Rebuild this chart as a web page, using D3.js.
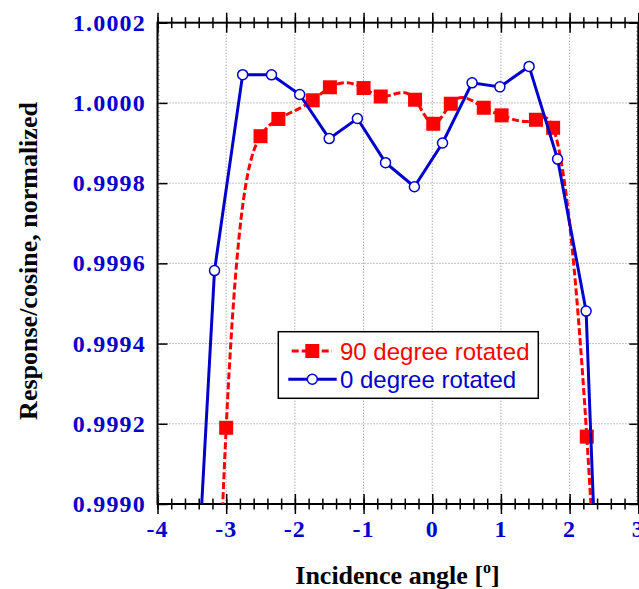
<!DOCTYPE html>
<html><head><meta charset="utf-8">
<script src="https://cdn.jsdelivr.net/npm/d3@7"></script>
<style>body{margin:0;background:#fff;overflow:hidden}</style>
</head><body>
<svg id="chart" width="639" height="589"></svg>
<script>
// Series: 90 degree rotated (red) — first/last points lie below the visible range
const redX = [-3.25, -3.0, -2.5, -2.24, -1.74, -1.49, -1.0, -0.75, -0.25, 0.015, 0.27, 0.75, 1.01, 1.51, 1.76, 2.25, 2.5];
const redY = [0.998065, 0.99919, 0.999917, 0.99996, 1.0000065, 1.000039, 1.000037, 1.000016, 1.000008, 0.999948, 0.999998, 0.999988, 0.999969, 0.999958, 0.999938, 0.999168, 0.9984];
// Series: 0 degree rotated (blue)
const blueX = [-3.58, -3.17, -2.76, -2.34, -1.93, -1.50, -1.09, -0.68, -0.26, 0.15, 0.58, 0.985, 1.41, 1.825, 2.24, 2.655];
const blueY = [0.9983, 0.999582, 1.0000705, 1.00007, 1.000021, 0.999911, 0.999961, 0.999851, 0.999791, 0.9999, 1.00005, 1.00004, 1.000091, 0.99986, 0.999481, 0.9976];
// Axis ticks
const xTicks = [-4, -3, -2, -1, 0, 1, 2, 3];
const yTicks = [0.9990, 0.9992, 0.9994, 0.9996, 0.9998, 1.0000, 1.0002];
const legendLabels = ["90 degree rotated", "0 degree rotated"];

const RED = "#ff0000", BLUE = "#0000cc";
const L = 157.5, R = 638.3, T = 22.7, B = 504;
const x = d3.scaleLinear().domain([-4, 3]).range([L, R]);
const y = d3.scaleLinear().domain([0.9990, 1.0002]).range([B, T]);

// custom d3 curve: natural cubic spline y(x) (x must be increasing)
function curveSplineX(context) {
  let xs, ys;
  return {
    areaStart() {}, areaEnd() {},
    lineStart() { xs = []; ys = []; },
    point(px, py) { xs.push(+px); ys.push(+py); },
    lineEnd() {
      const n = xs.length - 1;
      if (n < 1) return;
      const h = d3.range(n).map(i => xs[i + 1] - xs[i]);
      const s = d3.range(n).map(i => (ys[i + 1] - ys[i]) / h[i]);
      const M = new Array(n + 1).fill(0);
      if (n > 1) {
        const a = [], b = [], c = [], d = [];
        for (let i = 1; i < n; i++) {
          a.push(h[i - 1]); b.push(2 * (h[i - 1] + h[i])); c.push(h[i]); d.push(6 * (s[i] - s[i - 1]));
        }
        const m = b.length;
        for (let i = 1; i < m; i++) {
          const w = a[i] / b[i - 1];
          b[i] -= w * c[i - 1]; d[i] -= w * d[i - 1];
        }
        const sol = new Array(m);
        sol[m - 1] = d[m - 1] / b[m - 1];
        for (let i = m - 2; i >= 0; i--) sol[i] = (d[i] - c[i] * sol[i + 1]) / b[i];
        for (let i = 1; i < n; i++) M[i] = sol[i - 1];
      }
      const der = i => i < n ? s[i] - h[i] * (2 * M[i] + M[i + 1]) / 6
                             : s[n - 1] + h[n - 1] * (M[n - 1] + 2 * M[n]) / 6;
      context.moveTo(xs[0], ys[0]);
      for (let i = 0; i < n; i++) {
        const k = h[i] / 3;
        context.bezierCurveTo(xs[i] + k, ys[i] + der(i) * k, xs[i + 1] - k, ys[i + 1] - der(i + 1) * k, xs[i + 1], ys[i + 1]);
      }
    }
  };
}

const svg = d3.select("#chart");
svg.append("rect").attr("width", 639).attr("height", 589).attr("fill", "#fff");

svg.append("defs").append("clipPath").attr("id", "clip")
  .append("rect").attr("x", L).attr("y", T).attr("width", R - L).attr("height", B - T);

// grid
const grid = svg.append("g").attr("stroke", "#8a8a8a").attr("stroke-width", 1).attr("stroke-dasharray", "1,2");
grid.selectAll(".gx").data(xTicks.filter(d => d > -4 && d < 3)).join("line")
  .attr("x1", d => x(d)).attr("x2", d => x(d)).attr("y1", T).attr("y2", B);
grid.selectAll(".gy").data(yTicks.filter(d => d > 0.9990 && d < 1.0002)).join("line")
  .attr("y1", d => y(d)).attr("y2", d => y(d)).attr("x1", L).attr("x2", R);

// minor ticks
const xMinor = d3.range(-4, 3.0001, 0.2);
const yMinor = d3.range(0.9990, 1.00020001, 0.00001);

function styleAxis(g) {
  g.select(".domain").remove();
  g.selectAll(".tick line").attr("stroke", "#000").attr("stroke-width", 1.5);
  g.selectAll("text").remove();
}
[[B, d3.axisBottom, d3.axisTop], [T, d3.axisTop, d3.axisBottom]].forEach(([pos, out, inn]) => {
  svg.append("g").attr("transform", `translate(0,${pos})`).call(out(x).tickValues(xMinor).tickSize(5.5)).call(styleAxis);
  svg.append("g").attr("transform", `translate(0,${pos})`).call(inn(x).tickValues(xMinor).tickSize(5.5)).call(styleAxis);
  svg.append("g").attr("transform", `translate(0,${pos})`).call(out(x).tickValues(xTicks).tickSize(10)).call(styleAxis);
  svg.append("g").attr("transform", `translate(0,${pos})`).call(inn(x).tickValues(xTicks).tickSize(10)).call(styleAxis);
});
svg.append("g").attr("transform", `translate(${L},0)`).call(d3.axisRight(y).tickValues(yTicks).tickSize(10)).call(styleAxis);
svg.append("g").attr("transform", `translate(${R},0)`).call(d3.axisLeft(y).tickValues(yTicks).tickSize(9)).call(styleAxis);
svg.append("g").attr("transform", `translate(${L},0)`).call(d3.axisRight(y).tickValues(yMinor).tickSize(2)).call(styleAxis)
  .selectAll(".tick line").attr("stroke-width", 0.8).attr("stroke", "#666");
svg.append("g").attr("transform", `translate(${R},0)`).call(d3.axisLeft(y).tickValues(yMinor).tickSize(2)).call(styleAxis)
  .selectAll(".tick line").attr("stroke-width", 0.8).attr("stroke", "#666");

// frame
svg.append("rect").attr("x", L).attr("y", T).attr("width", R - L).attr("height", B - T)
  .attr("fill", "none").attr("stroke", "#000").attr("stroke-width", 2);

// tick labels
svg.append("g").selectAll("text").data(xTicks).join("text")
  .attr("x", d => x(d)).attr("y", 537).attr("text-anchor", "middle")
  .attr("font-family", "Liberation Serif, Times New Roman, serif").attr("font-weight", "bold")
  .attr("font-size", 24).attr("letter-spacing", 1).attr("fill", BLUE)
  .text(d => d3.format("d")(d).replace("−", "-"));
svg.append("g").selectAll("text").data(yTicks).join("text")
  .attr("x", 146).attr("y", d => y(d) + 8).attr("text-anchor", "end")
  .attr("font-family", "Liberation Serif, Times New Roman, serif").attr("font-weight", "bold")
  .attr("font-size", 24).attr("letter-spacing", 1.2).attr("fill", BLUE)
  .text(d => d.toFixed(4));

// axis titles
const xt = svg.append("text").attr("x", 397.5).attr("y", 584).attr("text-anchor", "middle")
  .attr("font-family", "Liberation Serif, Times New Roman, serif").attr("font-weight", "bold")
  .attr("font-size", 26).attr("fill", "#000");
xt.append("tspan").text("Incidence angle [");
xt.append("tspan").attr("font-size", 16).attr("dy", -11).text("o");
xt.append("tspan").attr("dy", 11).text("]");

svg.append("text").attr("transform", "translate(37,261) rotate(-90)").attr("text-anchor", "middle")
  .attr("font-family", "Liberation Serif, Times New Roman, serif").attr("font-weight", "bold")
  .attr("font-size", 26).attr("fill", "#000").text("Response/cosine, normalized");

// data
const plot = svg.append("g").attr("clip-path", "url(#clip)");
const redData = redX.map((v, i) => [v, redY[i]]);
const blueData = blueX.map((v, i) => [v, blueY[i]]);

plot.append("path").datum(redData)
  .attr("d", d3.line().x(d => x(d[0])).y(d => y(d[1])).curve(curveSplineX))
  .attr("fill", "none").attr("stroke", RED).attr("stroke-width", 3).attr("stroke-dasharray", "7,3");
plot.selectAll(".sq").data(redData).join("rect")
  .attr("x", d => x(d[0]) - 7).attr("y", d => y(d[1]) - 7).attr("width", 14).attr("height", 14).attr("fill", RED);

plot.append("path").datum(blueData)
  .attr("d", d3.line().x(d => x(d[0])).y(d => y(d[1])))
  .attr("fill", "none").attr("stroke", BLUE).attr("stroke-width", 3);
plot.selectAll(".ci").data(blueData).join("circle")
  .attr("cx", d => x(d[0])).attr("cy", d => y(d[1])).attr("r", 5)
  .attr("fill", "#fff").attr("stroke", BLUE).attr("stroke-width", 1.5);

// legend
const lg = svg.append("g");
lg.append("rect").attr("x", 278.3).attr("y", 331.7).attr("width", 260).attr("height", 66.6)
  .attr("fill", "#fff").attr("stroke", "#000").attr("stroke-width", 1.5);
const rows = [{c: RED, y: 351, dash: "7,3", sym: "sq"}, {c: BLUE, y: 379.3, dash: null, sym: "ci"}];
rows.forEach((r, i) => {
  lg.append("line").attr("x1", i === 0 ? 291.7 : 288.3).attr("x2", i === 0 ? 332 : 336.7)
    .attr("y1", r.y).attr("y2", r.y).attr("stroke", r.c).attr("stroke-width", 3)
    .attr("stroke-dasharray", r.dash);
  if (r.sym === "sq") lg.append("rect").attr("x", 312.3 - 7).attr("y", r.y - 7).attr("width", 14).attr("height", 14).attr("fill", r.c);
  else lg.append("circle").attr("cx", 312.3).attr("cy", r.y).attr("r", 5).attr("fill", "#fff").attr("stroke", r.c).attr("stroke-width", 1.5);
  lg.append("text").attr("x", 340).attr("y", r.y + 9).attr("font-family", "Liberation Sans, Arial, sans-serif")
    .attr("font-size", 24).attr("fill", r.c).text(legendLabels[i]);
});
</script>
</body></html>
